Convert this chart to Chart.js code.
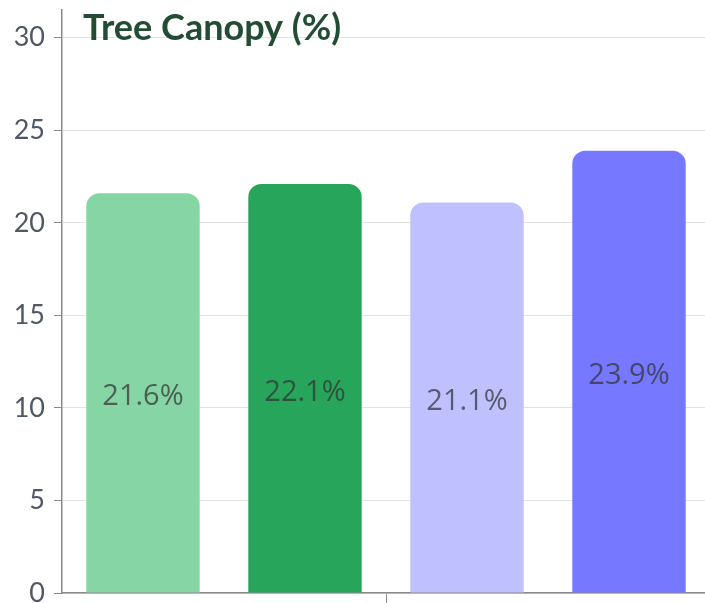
<!DOCTYPE html>
<html>
<head>
<meta charset="utf-8">
<script src="https://cdn.jsdelivr.net/npm/chart.js@4"></script>
<style>
  html, body { margin: 0; padding: 0; overflow: hidden; background: #fff; }
  #wrap { position: relative; width: 710px; height: 603px; }
</style>
</head>
<body>
<div id="wrap"><canvas id="c"></canvas></div>
<script>
const chartTitle = 'Tree Canopy (%)';
const categories = [''];
const seriesNames = ['Area 1', 'Area 2', 'Area 3', 'Area 4'];
const seriesValues = [21.6, 22.1, 21.1, 23.9];
const seriesColors = ['#86d6a5', '#27a55b', '#bfc1ff', '#7679ff'];
const yTicks = [0, 5, 10, 15, 20, 25, 30];

const datasets = seriesNames.map((name, i) => ({
  label: name,
  data: [seriesValues[i]],
  backgroundColor: seriesColors[i],
  borderRadius: { topLeft: 13, topRight: 13, bottomLeft: 0, bottomRight: 0 },
  borderSkipped: false,
  categoryPercentage: 1.0,
  barPercentage: 0.7
}));

const labelPlugin = {
  id: 'centerLabels',
  afterDatasetsDraw(chart) {
    const ctx = chart.ctx;
    ctx.save();
    ctx.font = '29px "Open Sans"';
    ctx.fillStyle = 'rgba(50,50,50,0.72)';
    ctx.textAlign = 'center';
    ctx.textBaseline = 'middle';
    chart.data.datasets.forEach((ds, di) => {
      const meta = chart.getDatasetMeta(di);
      meta.data.forEach((bar, j) => {
        const v = ds.data[j];
        const y = (bar.y + bar.base) / 2 + 4;
        ctx.fillText(v.toFixed(1) + '%', bar.x, y);
      });
    });
    ctx.restore();
  }
};

const titlePlugin = {
  id: 'overlayTitle',
  afterDraw(chart) {
    const ctx = chart.ctx;
    ctx.save();
    ctx.font = 'bold 36px Lato';
    ctx.fillStyle = '#224d34';
    ctx.textAlign = 'left';
    ctx.textBaseline = 'alphabetic';
    ctx.fillText(chartTitle, 83, 40);
    ctx.restore();
  }
};

new Chart(document.getElementById('c'), {
  type: 'bar',
  data: { labels: categories, datasets },
  options: {
    responsive: true,
    maintainAspectRatio: false,
    animation: false,
    layout: { autoPadding: false, padding: { top: 10, left: 0, right: 0, bottom: 0 } },
    plugins: {
      legend: { display: false },
      tooltip: { enabled: false },
      title: { display: false }
    },
    scales: {
      x: {
        offset: true,
        afterFit(scale) { scale.height = 10; scale.paddingLeft = 0; scale.paddingRight = 0; },
        grid: { offset: false, drawOnChartArea: false, drawTicks: true, tickLength: 10, color: '#8a8a8a' },
        border: { color: '#8a8a8a', width: 1.5 },
        ticks: { display: false }
      },
      y: {
        min: 0,
        max: 31.5,
        afterBuildTicks(scale) {
          scale.ticks = yTicks.map(v => ({ value: v }));
        },
        afterFit(scale) {
          scale.width = 62;
          scale.paddingTop = 0;
          scale.paddingBottom = 0;
        },
        grid: { color: '#e2e2e2', tickLength: 8, tickColor: '#8a8a8a' },
        border: { color: '#8a8a8a', width: 1.5 },
        ticks: {
          font: { family: 'Lato', size: 27 },
          color: '#4f5864',
          padding: 9
        }
      }
    }
  },
  plugins: [labelPlugin, titlePlugin]
});
</script>
</body>
</html>
